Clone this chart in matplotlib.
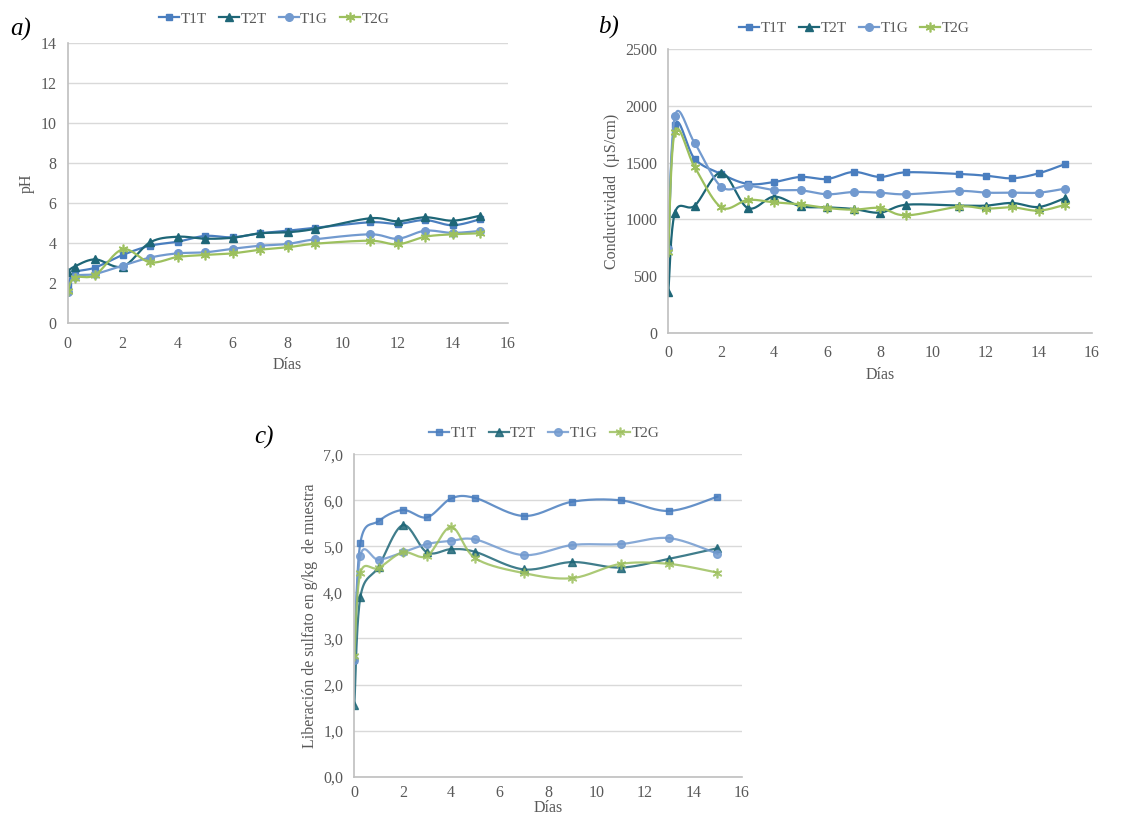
import numpy as np
import matplotlib.pyplot as plt
from matplotlib.ticker import FuncFormatter

plt.rcParams['font.family'] = ['Liberation Serif', 'DejaVu Serif']
plt.rcParams['font.size'] = 11

# --- data ---
dias_ab = [0, 0.25, 1, 2, 3, 4, 5, 6, 7, 8, 9, 11, 12, 13, 14, 15]
dias_c = [0, 0.25, 1, 2, 3, 4, 5, 7, 9, 11, 13, 15]

ph_T1T = [1.91, 2.53, 2.78, 3.41, 3.87, 4.07, 4.36, 4.29, 4.49, 4.62, 4.77, 5.04, 4.96, 5.15, 4.89, 5.19]
ph_T2T = [2.58, 2.83, 3.19, 2.83, 4.04, 4.32, 4.22, 4.27, 4.49, 4.54, 4.71, 5.24, 5.09, 5.29, 5.12, 5.37]
ph_T1G = [1.58, 2.33, 2.46, 2.88, 3.28, 3.49, 3.54, 3.72, 3.87, 3.96, 4.19, 4.44, 4.22, 4.62, 4.51, 4.61]
ph_T2G = [1.63, 2.28, 2.41, 3.69, 3.04, 3.31, 3.41, 3.49, 3.67, 3.79, 3.97, 4.12, 3.94, 4.32, 4.44, 4.49]

ce_T1T = [744, 1832, 1532, 1400, 1312, 1329, 1374, 1356, 1418, 1374, 1415, 1400, 1385, 1362, 1406, 1488]
ce_T2T = [356, 1059, 1121, 1412, 1100, 1200, 1115, 1106, 1091, 1059, 1129, 1121, 1121, 1144, 1109, 1188]
ce_T1G = [735, 1912, 1671, 1288, 1297, 1259, 1256, 1221, 1241, 1235, 1221, 1250, 1235, 1235, 1235, 1271]
ce_T2G = [709, 1774, 1459, 1106, 1171, 1150, 1132, 1100, 1085, 1100, 1035, 1112, 1094, 1106, 1076, 1129]

su_T1T = [2.53, 5.08, 5.55, 5.79, 5.63, 6.04, 6.05, 5.66, 5.97, 6.00, 5.77, 6.08]
su_T2T = [1.55, 3.90, 4.56, 5.46, 4.87, 4.94, 4.88, 4.50, 4.66, 4.54, 4.73, 4.96]
su_T1G = [2.53, 4.80, 4.71, 4.87, 5.05, 5.12, 5.15, 4.81, 5.03, 5.05, 5.18, 4.84]
su_T2G = [2.61, 4.42, 4.53, 4.87, 4.79, 5.42, 4.74, 4.42, 4.31, 4.62, 4.62, 4.43]

nombres = ['T1T', 'T2T', 'T1G', 'T2G']
colores = ['#4A7EBF', '#1E6677', '#729ACF', '#9DC05E']
marcadores = ['s', '^', 'o', (6, 2, 0)]
tam = [5, 5.5, 5.5, 7]

gris = '#595959'


# smoothed line like the spreadsheet does (bezier through the points)
def suave(x, y, n=20):
    x = np.asarray(x, float)
    y = np.asarray(y, float)
    px = np.concatenate([[x[0]], x, [x[-1]]])
    py = np.concatenate([[y[0]], y, [y[-1]]])
    xs, ys = [x[0]], [y[0]]
    t = np.linspace(0, 1, n + 1)[1:]
    for i in range(len(x) - 1):
        p0 = np.array([px[i + 1], py[i + 1]])
        p3 = np.array([px[i + 2], py[i + 2]])
        c1 = p0 + (p3 - np.array([px[i], py[i]])) / 6
        c2 = p3 - (np.array([px[i + 3], py[i + 3]]) - p0) / 6
        b = ((1 - t) ** 3)[:, None] * p0 + (3 * (1 - t) ** 2 * t)[:, None] * c1 \
            + (3 * (1 - t) * t ** 2)[:, None] * c2 + (t ** 3)[:, None] * p3
        xs.extend(b[:, 0])
        ys.extend(b[:, 1])
    return np.array(xs), np.array(ys), list(range(0, len(xs), n))


def panel(ax, x, series, ymax, ystep, ylabel, legpos, fmt=None, alpha=1.0,
          xpad=9, lpad=4):
    for s, nom, c, m, ms in zip(series, nombres, colores, marcadores, tam):
        xs, ys, idx = suave(x, s)
        ax.plot(xs, ys, color=c, lw=1.6, marker=m, ms=ms, markevery=idx,
                label=nom, alpha=alpha, mew=1.2 if ms == 7 else 1)
    ax.set_xlim(0, 16)
    ax.set_ylim(0, ymax)
    ax.set_xticks(range(0, 17, 2))
    ax.set_yticks(np.arange(0, ymax + ystep / 2, ystep))
    if fmt:
        ax.yaxis.set_major_formatter(FuncFormatter(fmt))
    ax.grid(axis='y', color='#D9D9D9', lw=1)
    ax.set_axisbelow(True)
    for sp in ['top', 'right']:
        ax.spines[sp].set_visible(False)
    for sp in ['left', 'bottom']:
        ax.spines[sp].set_color('#BFBFBF')
        ax.spines[sp].set_linewidth(1.2)
    ax.tick_params(axis='y', length=0, colors=gris, labelsize=11.5, pad=8)
    ax.tick_params(axis='x', length=0, colors=gris, labelsize=11.5, pad=xpad)
    ax.set_xlabel('Días', color=gris, labelpad=lpad, fontsize=11.5)
    ax.set_ylabel(ylabel, color=gris, fontsize=11.5)
    ax.legend(loc='center', bbox_to_anchor=legpos, ncol=4, frameon=False,
              handlelength=1.3, columnspacing=0.8, handletextpad=0.1,
              labelcolor=gris, fontsize=11)


fig = plt.figure(figsize=(11.43, 8.16), dpi=100)

ax_a = fig.add_axes([0.0592, 0.6038, 0.385, 0.3439])
panel(ax_a, dias_ab, [ph_T1T, ph_T2T, ph_T1G, ph_T2G], 14, 2, 'pH', (0.47, 1.085))

ax_b = fig.add_axes([0.5847, 0.5923, 0.3704, 0.3473])
panel(ax_b, dias_ab, [ce_T1T, ce_T2T, ce_T1G, ce_T2G], 2500, 500,
      'Conductividad  (µS/cm)', (0.44, 1.075))

ax_c = fig.add_axes([0.31, 0.0482, 0.3389, 0.3951])
panel(ax_c, dias_c, [su_T1T, su_T2T, su_T1G, su_T2G], 7, 1,
      'Liberación de sulfato en g/kg  de muestra', (0.49, 1.065),
      fmt=lambda v, p: f'{v:.1f}'.replace('.', ','), alpha=0.85,
      xpad=6, lpad=-1)

fig.text(0.009, 0.964, 'a)', fontsize=18, style='italic', ha='left', va='center')
fig.text(0.523, 0.966, 'b)', fontsize=18, style='italic', ha='left', va='center')
fig.text(0.222, 0.464, 'c)', fontsize=18, style='italic', ha='left', va='center')

fig.savefig('out.png', dpi=100)
